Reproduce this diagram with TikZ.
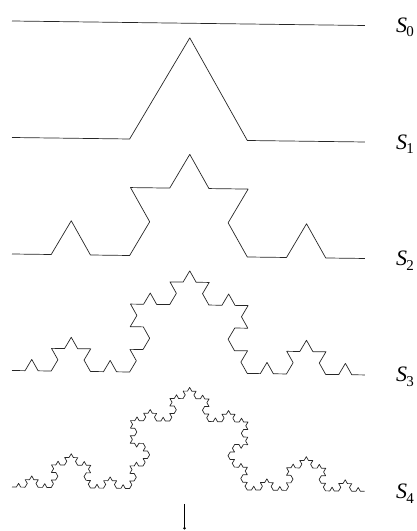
\documentclass[tikz,border=0pt]{standalone}
\usepackage{fontspec}
\setmainfont{Liberation Serif}
\usepackage{tikz}
\usetikzlibrary{arrows.meta,calc,lindenmayersystems}
\pgfdeclarelindenmayersystem{Koch curve}{\rule{F -> F+F--F+F}}
\tikzset{
  koch/curve/.style={line width=0.7pt, draw=black!85, line join=round},
  koch/label/.style={anchor=west, inner sep=0pt, font=\fontsize{22}{26}\selectfont},
  koch/arr/.style={line width=0.7pt, -{Circle[length=2.6pt]}}
}
\newcommand{\Slab}[1]{\textit{S}\kern-0.8pt\raisebox{-4.5pt}{\fontsize{15}{15}\selectfont #1}}

\begin{document}
\begin{tikzpicture}[x=1pt,y=1pt]
\useasboundingbox (0,0) rectangle (417,531);
% the five stages, one above the other
\foreach \n in {0,...,4}{
  \pgfmathsetmacro\yb{510-116.5*\n}
  \pgfmathsetmacro\st{353/(3^\n)}
  \begin{scope}[shift={(12,\yb)}, rotate=-0.73]
    \draw[koch/curve, lindenmayer system={Koch curve, axiom=F, order=\n, step=\st pt, angle=60}]
      (0,0) lindenmayer system;
    \coordinate (e\n) at (353,0);
  \end{scope}
  \node[koch/label] (s\n) at ($(e\n)+(31,-2)$) {\Slab{\n}};
}
\coordinate (atop) at (184.5,27);
\coordinate (abot) at (184.5,1.5);
\draw[koch/arr] (atop) -- (abot);
\end{tikzpicture}
\end{document}
